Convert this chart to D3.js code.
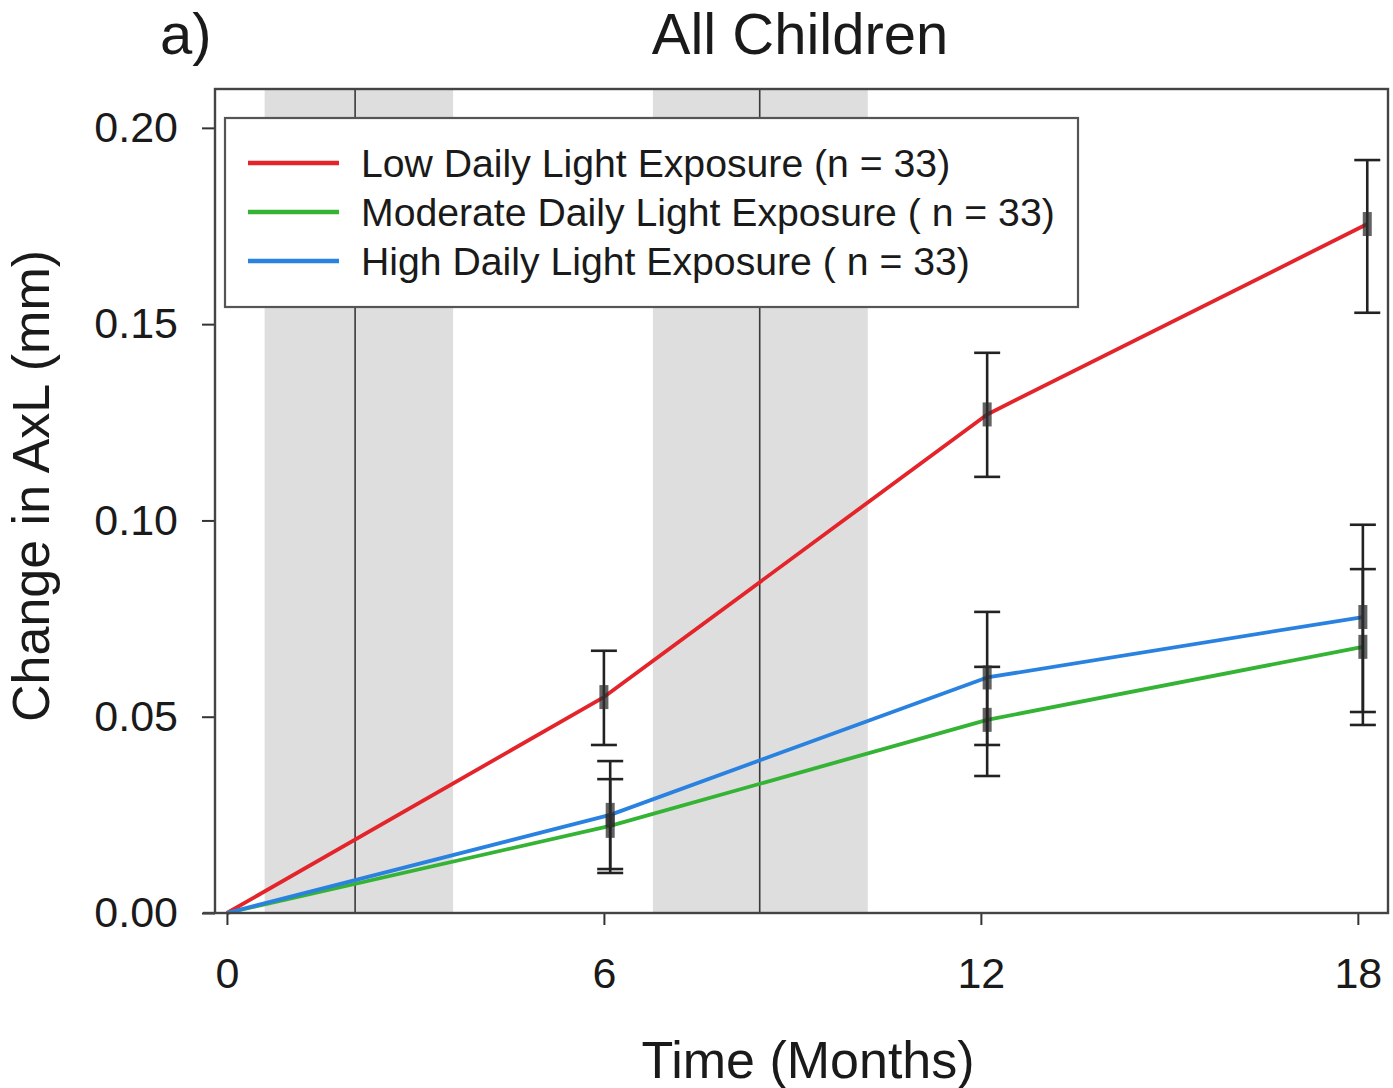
<!DOCTYPE html>
<html>
<head>
<meta charset="utf-8">
<script src="https://cdn.jsdelivr.net/npm/d3@7"></script>
<style>
  html, body { margin: 0; padding: 0; background: #fff; }
  svg { display: block; font-family: "Liberation Sans", Arial, Helvetica, sans-serif; }
</style>
</head>
<body>
<svg id="chart" width="1393" height="1088"></svg>
<script>
// Axial length change over 18 months, by daily light exposure group
const seriesNames = ["Low Daily Light Exposure (n = 33)",
                     "Moderate Daily Light Exposure ( n = 33)",
                     "High Daily Light Exposure ( n = 33)"];
const seriesColors = ["#e3242b", "#34b334", "#2a82e0"];

// visit times (months) for each group
const lowTime = [0, 6.0, 12.1, 18.15];
const modTime = [0, 6.1, 12.1, 18.08];
const highTime = [0, 6.1, 12.1, 18.08];

// mean change in axial length (mm)
const lowMean = [0, 0.055, 0.127, 0.1755];
const modMean = [0, 0.0222, 0.0492, 0.0678];
const highMean = [0, 0.025, 0.060, 0.0754];

// error bar bounds (mm); first visit is the baseline and carries no bar
const lowLower = [null, 0.0428, 0.1111, 0.1529];
const lowUpper = [null, 0.0668, 0.1427, 0.1918];
const modLower = [null, 0.0102, 0.0349, 0.0479];
const modUpper = [null, 0.0341, 0.0627, 0.0876];
const highLower = [null, 0.0112, 0.0428, 0.0512];
const highUpper = [null, 0.0387, 0.0767, 0.0989];

// shaded seasonal periods and their mid-point dividers (months)
const bandStart = [0.6, 6.78];
const bandEnd = [3.6, 10.2];
const dividers = [2.04, 8.48];

const xTicks = [0, 6, 12, 18];
const yTicks = [0, 0.05, 0.10, 0.15, 0.20];

const groups = [
  { name: seriesNames[0], color: seriesColors[0], t: lowTime, m: lowMean, lo: lowLower, hi: lowUpper },
  { name: seriesNames[1], color: seriesColors[1], t: modTime, m: modMean, lo: modLower, hi: modUpper },
  { name: seriesNames[2], color: seriesColors[2], t: highTime, m: highMean, lo: highLower, hi: highUpper }
];

const svg = d3.select("#chart");
const plot = { left: 215, right: 1388, top: 89, bottom: 913 };

const x = d3.scaleLinear().domain([-0.19, 18.48]).range([plot.left, plot.right]);
const y = d3.scaleLinear().domain([0, 0.2099]).range([plot.bottom, plot.top]);

// seasonal shading
svg.append("g").selectAll("rect")
  .data(bandStart.map((s, i) => [s, bandEnd[i]]))
  .join("rect")
  .attr("x", d => x(d[0]))
  .attr("width", d => x(d[1]) - x(d[0]))
  .attr("y", plot.top)
  .attr("height", plot.bottom - plot.top)
  .attr("fill", "#dedede");

svg.append("g").selectAll("line")
  .data(dividers)
  .join("line")
  .attr("x1", d => x(d)).attr("x2", d => x(d))
  .attr("y1", plot.top).attr("y2", plot.bottom)
  .attr("stroke", "#3a3a3a").attr("stroke-width", 1.6);

// group lines
const line = d3.line().x(d => x(d[0])).y(d => y(d[1]));
svg.append("g").selectAll("path")
  .data(groups)
  .join("path")
  .attr("d", g => line(g.t.map((t, i) => [t, g.m[i]])))
  .attr("fill", "none")
  .attr("stroke", g => g.color)
  .attr("stroke-width", 3.8)
  .attr("stroke-linejoin", "round");

// error bars with caps and mean markers
const capHalf = 13;
groups.forEach(g => {
  const pts = g.t.map((t, i) => ({ t, m: g.m[i], lo: g.lo[i], hi: g.hi[i] })).filter(d => d.lo !== null);
  const eg = svg.append("g").attr("stroke", "#222").attr("stroke-width", 2.6);
  eg.selectAll("line.v").data(pts).join("line").attr("class", "v")
    .attr("x1", d => x(d.t)).attr("x2", d => x(d.t))
    .attr("y1", d => y(d.lo)).attr("y2", d => y(d.hi));
  eg.selectAll("line.lo").data(pts).join("line").attr("class", "lo")
    .attr("x1", d => x(d.t) - capHalf).attr("x2", d => x(d.t) + capHalf)
    .attr("y1", d => y(d.lo)).attr("y2", d => y(d.lo));
  eg.selectAll("line.hi").data(pts).join("line").attr("class", "hi")
    .attr("x1", d => x(d.t) - capHalf).attr("x2", d => x(d.t) + capHalf)
    .attr("y1", d => y(d.hi)).attr("y2", d => y(d.hi));
  svg.append("g").selectAll("rect").data(pts).join("rect")
    .attr("x", d => x(d.t) - 4.5).attr("width", 9)
    .attr("y", d => y(d.m) - 12).attr("height", 24)
    .attr("fill", "#2f2f2f").attr("fill-opacity", 0.75);
});

// axes
const yAxis = svg.append("g").attr("transform", `translate(${plot.left},0)`)
  .call(d3.axisLeft(y).tickValues(yTicks).tickFormat(d3.format(".2f")).tickSize(13).tickPadding(24));
const xAxis = svg.append("g").attr("transform", `translate(0,${plot.bottom})`)
  .call(d3.axisBottom(x).tickValues(xTicks).tickFormat(d3.format("d")).tickSize(12).tickPadding(32));
[yAxis, xAxis].forEach(a => {
  a.select(".domain").remove();
  a.selectAll(".tick line").attr("stroke", "#333").attr("stroke-width", 2);
  a.selectAll(".tick text").attr("fill", "#1a1a1a")
    .style("font-size", "43px").style("font-family", "'Liberation Sans', Arial, sans-serif");
});

// frame
svg.append("rect")
  .attr("x", plot.left).attr("y", plot.top)
  .attr("width", plot.right - plot.left).attr("height", plot.bottom - plot.top)
  .attr("fill", "none").attr("stroke", "#444").attr("stroke-width", 2.4);
svg.append("line")
  .attr("x1", plot.left - 12).attr("x2", plot.left)
  .attr("y1", plot.bottom).attr("y2", plot.bottom)
  .attr("stroke", "#444").attr("stroke-width", 2.4);

// legend
const legend = svg.append("g");
legend.append("rect")
  .attr("x", 225).attr("y", 118).attr("width", 853).attr("height", 189)
  .attr("fill", "#fff").attr("stroke", "#555").attr("stroke-width", 2.2);
const items = legend.selectAll("g.item").data(groups).join("g").attr("class", "item")
  .attr("transform", (d, i) => `translate(0,${163 + i * 49})`);
items.append("line")
  .attr("x1", 248).attr("x2", 339).attr("y1", 0).attr("y2", 0)
  .attr("stroke", d => d.color).attr("stroke-width", 4.5);
items.append("text")
  .attr("x", 361).attr("y", 0).attr("dy", "0.36em")
  .attr("fill", "#1a1a1a").style("font-size", "39.2px")
  .text(d => d.name);

// titles
svg.append("text").attr("x", 800).attr("y", 54).attr("text-anchor", "middle")
  .attr("fill", "#1a1a1a").style("font-size", "58px").text("All Children");
svg.append("text").attr("x", 160).attr("y", 54)
  .attr("fill", "#1a1a1a").style("font-size", "58px").text("a)");
svg.append("text").attr("x", 808).attr("y", 1078).attr("text-anchor", "middle")
  .attr("fill", "#1a1a1a").style("font-size", "52px").text("Time (Months)");
svg.append("text").attr("transform", "translate(49,486) rotate(-90)").attr("text-anchor", "middle")
  .attr("fill", "#1a1a1a").style("font-size", "52px").text("Change in AxL (mm)");
</script>
</body>
</html>
